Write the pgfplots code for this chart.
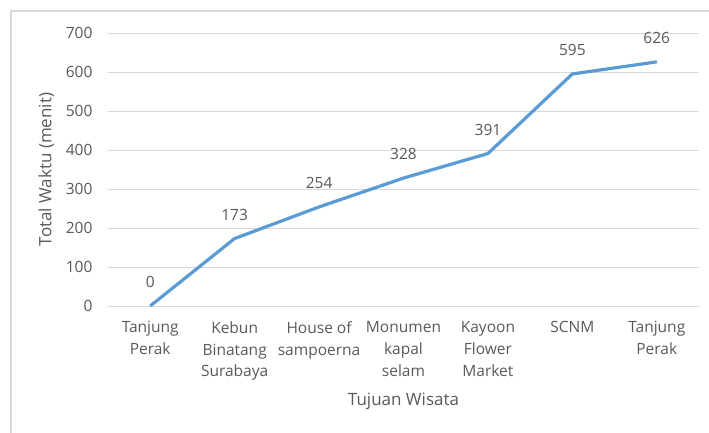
\documentclass[border=0pt]{standalone}
\usepackage{pgfplots}
\pgfplotsset{compat=1.18}
\usepackage{fontspec}
\setmainfont{Open Sans}
\definecolor{linecol}{RGB}{91,155,213}
\definecolor{txt}{RGB}{89,89,89}
\definecolor{gridc}{RGB}{217,217,217}
\definecolor{framec}{RGB}{217,217,217}
\begin{document}
\begin{tikzpicture}
\useasboundingbox (0,0) rectangle (709pt,-433pt);
\draw[framec, line width=1.5pt] (11pt,-433pt) -- (11pt,-11pt) -- (709pt,-11pt);
\begin{axis}[
  at={(108pt,-306pt)}, anchor=south west,
  scale only axis, width=591pt, height=273pt,
  xmin=-0.5, xmax=6.5, ymin=0, ymax=700,
  ytick={0,100,...,700},
  xtick={0,1,2,3,4,5,6},
  xticklabels={{Tanjung\\Perak},{Kebun\\Binatang\\Surabaya},{House of\\sampoerna},{Monumen\\kapal\\selam},{Kayoon\\Flower\\Market},{SCNM},{Tanjung\\Perak}},
  axis lines*=left,
  y axis line style={draw=none},
  x axis line style={draw=gridc, line width=1pt},
  major tick length=0pt,
  ymajorgrids, grid style={gridc, line width=1pt},
  /pgf/number format/assume math mode=true,
  tick label style={font=\fontsize{15.5}{21.7}\selectfont, color=txt},
  yticklabel style={xshift=-12pt},
  xticklabel style={align=center, yshift=-12pt},
  xlabel={Tujuan Wisata},
  ylabel={Total Waktu (menit)},
  label style={font=\fontsize{17}{21}\selectfont, color=txt},
  xlabel style={yshift=-6pt},
  ylabel style={yshift=5pt},
  clip=false,
]
\addplot[linecol, line width=3.2pt, line join=round,
  nodes near coords,
  every node near coord/.append style={font=\fontsize{15.5}{21.7}\selectfont, color=txt, yshift=13pt, /pgf/number format/assume math mode=true}]
  coordinates {(0,0) (1,173) (2,254) (3,328) (4,391) (5,595) (6,626)};
\end{axis}
\end{tikzpicture}
\end{document}
